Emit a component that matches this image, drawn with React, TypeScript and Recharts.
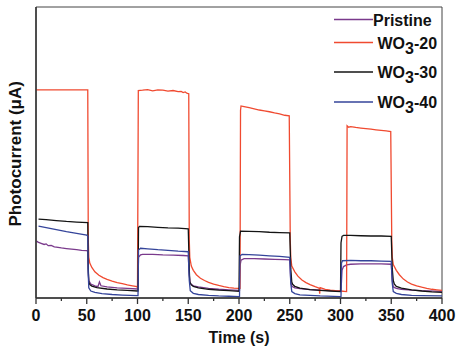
import { LineChart, Line, XAxis, YAxis, ReferenceArea } from 'recharts';

// Time (s) and photocurrent (arbitrary units) per sample
const pristineT = [0.5, 2, 5, 8, 10, 12, 15, 18, 20, 25, 30, 35, 40, 45, 50, 51, 51.5, 52, 54, 58, 61, 62.5, 64, 70, 80, 90, 100, 100.5, 101, 103, 105, 115, 125, 135, 145, 150, 151, 152, 155, 160, 170, 180, 190, 200, 200.5, 201, 202, 205, 215, 225, 235, 245, 250, 251, 252, 255, 260, 270, 280, 290, 300, 300.5, 301.5, 303, 306, 310, 320, 330, 340, 350, 351, 352, 355, 360, 370, 380, 400];
const pristineV = [19.6, 19.2, 18.8, 18.4, 18.6, 18.0, 18.1, 17.6, 17.5, 17.2, 17.0, 16.8, 16.6, 16.4, 16.3, 16.1, 9, 6, 4.8, 4.2, 3.9, 5.5, 4.2, 3.8, 3.5, 3.3, 3.1, 3.0, 14.0, 14.8, 15.0, 15.0, 14.8, 14.7, 14.6, 14.5, 8, 5, 4.2, 3.8, 3.3, 3.0, 2.8, 2.6, 2.6, 11, 13.0, 13.5, 13.5, 13.4, 13.3, 13.2, 13.1, 6, 4.0, 3.5, 3.2, 2.9, 2.7, 2.5, 2.4, 2.4, 9.5, 10.8, 11.4, 11.6, 11.7, 11.7, 11.7, 11.6, 6, 3.8, 3.3, 3.0, 2.7, 2.5, 2.3];

const wo20T = [0, 51, 51.5, 52, 53, 55, 58, 62, 66, 70, 75, 80, 85, 90, 95, 99.5, 100, 100.8, 105, 110, 115, 120, 125, 130, 135, 140, 143, 145, 147, 149, 150.5, 151, 151.5, 153, 155, 158, 162, 166, 170, 175, 180, 185, 190, 195, 200, 201, 201.5, 202, 205, 210, 215, 220, 225, 230, 235, 240, 245, 249.5, 250.5, 251, 252, 255, 258, 262, 266, 270, 275, 279, 279.5, 280, 285, 290, 295, 300, 306, 306.5, 308, 310, 315, 320, 325, 330, 335, 340, 345, 349.5, 350.5, 351, 352, 355, 358, 362, 366, 370, 375, 380, 385, 390, 395, 400];
const wo20V = [71.5, 71.5, 20, 14, 12, 10.5, 9, 7.8, 7, 6.4, 5.8, 5.3, 4.9, 4.5, 4.2, 3.9, 3.3, 71.3, 71.4, 71.6, 71.2, 71.5, 71.4, 71.1, 71.3, 70.9, 71.0, 70.6, 70.8, 70.3, 70.2, 20, 14, 11, 9.5, 8, 6.8, 6.0, 5.4, 4.8, 4.3, 3.9, 3.6, 3.4, 3.3, 3.3, 64.5, 66.0, 65.8, 65.4, 65.0, 64.6, 64.3, 64.0, 63.6, 63.3, 62.8, 62.6, 20, 14, 11, 9, 7.5, 6.2, 5.3, 4.6, 3.9, 3.4, 1.5, 3.6, 3.0, 2.7, 2.5, 2.4, 2.2, 59.2, 58.7, 58.9, 58.6, 58.4, 58.2, 58.0, 57.8, 57.6, 57.4, 57.2, 20, 14, 11.5, 9.5, 8, 6.5, 5.5, 4.8, 4.2, 3.7, 3.3, 3.0, 2.8, 2.6];

const wo30T = [2.5, 10, 20, 30, 40, 51, 51.5, 52, 53, 55, 60, 70, 80, 90, 100, 100.5, 101, 102, 110, 120, 130, 140, 150, 151, 151.5, 153, 155, 160, 170, 180, 190, 200, 200.5, 201.5, 210, 220, 230, 240, 250, 251, 252, 253, 255, 260, 270, 280, 290, 300, 300.5, 301.5, 303, 310, 320, 330, 340, 350, 351, 352, 353, 355, 360, 370, 380, 390, 400];
const wo30V = [27.1, 26.9, 26.6, 26.3, 26.1, 25.9, 10, 5.5, 4.6, 4.1, 3.6, 3.1, 2.8, 2.6, 2.4, 2.4, 24.2, 24.6, 24.5, 24.3, 24.1, 24.0, 23.8, 10, 5.5, 4.5, 4.0, 3.5, 3.0, 2.7, 2.5, 2.3, 21, 23.0, 22.9, 22.8, 22.6, 22.5, 22.4, 10, 5.5, 4.6, 4.0, 3.4, 2.9, 2.6, 2.4, 2.2, 19, 21.2, 21.5, 21.5, 21.4, 21.3, 21.3, 21.2, 10, 6, 4.8, 4.0, 3.4, 2.8, 2.4, 2.1, 1.9];

const wo40T = [2.5, 10, 20, 30, 40, 50, 51, 51.5, 52, 54, 58, 65, 75, 85, 100, 100.5, 101, 103, 110, 120, 130, 140, 150, 151, 152, 155, 160, 170, 180, 190, 200, 200.5, 201, 203, 210, 220, 230, 240, 250, 251, 252, 255, 260, 270, 280, 300, 300.5, 301, 302, 310, 320, 330, 340, 350, 351, 352, 355, 360, 370, 380, 400];
const wo40V = [24.7, 24.2, 23.5, 22.8, 22.2, 21.6, 21.3, 8, 3.5, 2.4, 1.9, 1.5, 1.2, 1.0, 0.8, 0.8, 16.5, 17.1, 16.9, 16.6, 16.4, 16.1, 15.9, 6, 2.5, 1.6, 1.2, 0.9, 0.7, 0.6, 0.5, 0.5, 14.5, 15.0, 14.9, 14.7, 14.5, 14.3, 14.0, 5, 2.2, 1.5, 1.1, 0.9, 0.7, 0.5, 0.5, 12.0, 12.8, 12.9, 12.8, 12.8, 12.7, 12.6, 5, 2.2, 1.6, 1.2, 0.9, 0.8, 0.7];

const timeTicks = [0, 25, 50, 75, 100, 125, 150, 175, 200, 225, 250, 275, 300, 325, 350, 375, 400];

const toPoints = (t: number[], v: number[]) => t.map((x, i) => ({ t: x, v: v[i] }));

const series = [
  { name: 'Pristine', sub: '', data: toPoints(pristineT, pristineV), color: '#7a3a8c' },
  { name: 'WO', sub: '-20', data: toPoints(wo20T, wo20V), color: '#f04a30' },
  { name: 'WO', sub: '-30', data: toPoints(wo30T, wo30V), color: '#141414' },
  { name: 'WO', sub: '-40', data: toPoints(wo40T, wo40V), color: '#34449a' },
];

const FONT = '"Liberation Sans", Arial, sans-serif';

// labels only on every other tick; minor ticks are shorter
function TimeTick(props: any) {
  const { x, y, payload } = props;
  const major = payload.value % 50 === 0;
  return (
    <g>
      <line x1={x} y1={y} x2={x} y2={y + (major ? 6 : 3)} stroke="#333" strokeWidth={1.3} />
      {major && (
        <text x={x} y={y + 12} dy="0.71em" textAnchor="middle" fontFamily={FONT} fontWeight="bold" fontSize={16} fill="#111">
          {payload.value}
        </text>
      )}
    </g>
  );
}

function LegendBox() {
  const rows = [19.5, 42.5, 72, 102];
  return (
    <svg width={130} height={120} style={{ position: 'absolute', left: 330, top: 0 }}>
      {series.map((s, i) => {
        const y = rows[i];
        return (
          <g key={i}>
            <line x1={4} y1={y} x2={43} y2={y} stroke={s.color} strokeWidth={1.5} />
            {s.sub === '' ? (
              <text x={43} y={y + 6} fontFamily={FONT} fontWeight="bold" fontSize={16} fill="#111">
                {s.name}
              </text>
            ) : (
              <text x={47.5} y={y + 6} fontFamily={FONT} fontWeight="bold" fontSize={16} fill="#111">
                {s.name}
                <tspan dy={5}>3</tspan>
                <tspan dy={-5}>{s.sub}</tspan>
              </text>
            )}
          </g>
        );
      })}
    </svg>
  );
}

export default function App() {
  return (
    <div style={{ position: 'absolute', left: 0, top: 0, width: 460, height: 352, background: '#fff' }}>
      <LineChart width={460} height={352} margin={{ top: 7, right: 18, bottom: 0, left: 0 }}>
        <XAxis
          dataKey="t"
          type="number"
          domain={[0, 400]}
          ticks={timeTicks}
          tick={<TimeTick />}
          tickLine={false}
          tickSize={0}
          tickMargin={0}
          height={54}
          axisLine={{ stroke: '#333', strokeWidth: 1.5 }}
          interval={0}
          label={{
            value: 'Time (s)',
            position: 'insideBottom',
            offset: 9,
            style: { fontFamily: FONT, fontWeight: 'bold', fontSize: 16, fill: '#111' },
          }}
        />
        <YAxis
          type="number"
          domain={[0, 100]}
          tick={false}
          tickLine={false}
          width={36}
          axisLine={{ stroke: '#333', strokeWidth: 1.5 }}
          label={{
            value: 'Photocurrent (μA)',
            angle: -90,
            position: 'insideLeft',
            offset: 15,
            dy: 74,
            style: { fontFamily: FONT, fontWeight: 'bold', fontSize: 17, fill: '#111' },
          }}
        />
        <ReferenceArea x1={0} x2={400} y1={0} y2={100} fill="none" stroke="#444" strokeWidth={1} ifOverflow="visible" />
        {series.map((s, i) => (
          <Line
            key={i}
            data={s.data}
            dataKey="v"
            type="linear"
            stroke={s.color}
            strokeWidth={1.3}
            dot={false}
            isAnimationActive={false}
          />
        ))}
      </LineChart>
      <LegendBox />
    </div>
  );
}
